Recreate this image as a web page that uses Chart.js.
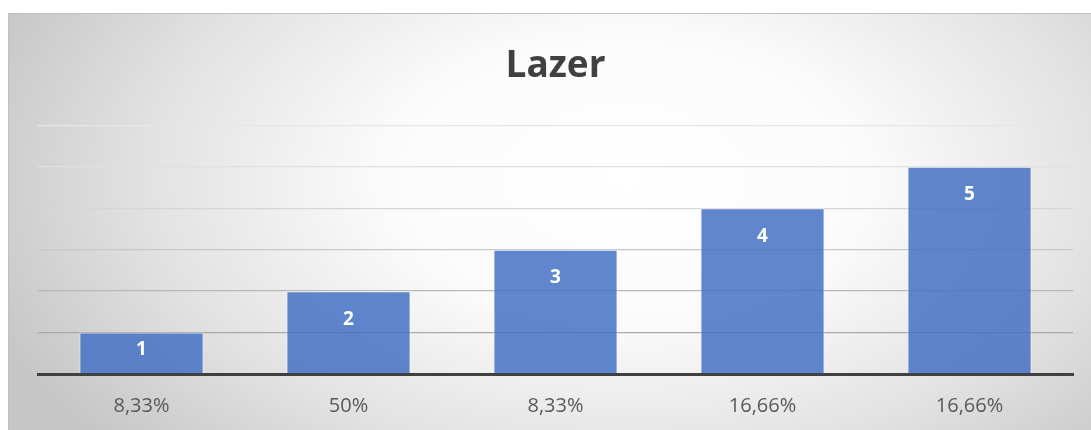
<!DOCTYPE html>
<html>
<head>
<meta charset="utf-8">
<script src="https://cdn.jsdelivr.net/npm/chart.js@4.4.1/dist/chart.umd.min.js"></script>
<style>
  html, body { margin: 0; padding: 0; background: #fff; overflow: hidden; }
  #card {
    position: absolute; left: 8px; top: 13px; width: 1100px; height: 430px;
    border: 1px solid #c0c0c0;
    background: radial-gradient(ellipse 62% 95% at 56% 38%, #ffffff 0%, #fbfbfb 35%, #e2e2e2 70%, #c6c6c6 100%);
  }
  #wrap { position: absolute; left: 0; top: 0; width: 1091px; height: 451px; }
</style>
</head>
<body>
<div id="card"></div>
<div id="wrap"><canvas id="chart" width="1091" height="451"></canvas></div>
<script>
const chartTitle = "Lazer";
const categories = ["8,33%", "50%", "8,33%", "16,66%", "16,66%"];
const values = [1, 2, 3, 4, 5];
const yMax = 6;

// gridline shades, darker toward the baseline
const gridShades = ["#9a9a9a", "#a8a8a8", "#b8b8b8", "#c8c8c8", "#d6d6d6", "#e0e0e0", "#e6e6e6"];

// value labels drawn inside the top of each bar
const barLabels = {
  id: "barLabels",
  afterDatasetsDraw(chart) {
    const c = chart.ctx;
    const meta = chart.getDatasetMeta(0);
    c.save();
    c.fillStyle = "#ffffff";
    c.font = "bold 19px 'Open Sans', sans-serif";
    c.textAlign = "center";
    c.textBaseline = "middle";
    meta.data.forEach((bar, i) => {
      const y = Math.min(bar.y + 28, (bar.y + bar.base) / 2 - 3);
      c.fillText(String(values[i]), bar.x, y);
    });
    c.restore();
  }
};

const ctx = document.getElementById("chart").getContext("2d");
new Chart(ctx, {
  type: "bar",
  data: {
    labels: categories,
    datasets: [{
      data: values,
      backgroundColor: "rgba(68,114,196,0.85)",
      borderColor: "rgba(255,255,255,0.55)",
      borderWidth: 1,
      barPercentage: 0.6,
      categoryPercentage: 1
    }]
  },
  options: {
    responsive: false,
    animation: false,
    layout: { padding: { left: 38, right: 18, top: 0, bottom: 13 } },
    plugins: {
      legend: { display: false },
      tooltip: { enabled: false },
      title: {
        display: true,
        text: chartTitle,
        color: "#404040",
        font: { family: "'Open Sans', sans-serif", size: 37, weight: "bold" },
        padding: { top: 44, bottom: 37 }
      }
    },
    scales: {
      x: {
        grid: { display: false, drawTicks: false },
        border: { color: "#404040", width: 3 },
        ticks: {
          color: "#595959",
          font: { family: "'Open Sans', sans-serif", size: 20 },
          padding: 20
        }
      },
      y: {
        min: 0,
        max: yMax,
        ticks: { display: false, stepSize: 1 },
        border: { display: false },
        grid: {
          drawTicks: false,
          lineWidth: 1.3,
          color: c => gridShades[c.index] || "#d0d0d0"
        }
      }
    }
  },
  plugins: [barLabels]
});
</script>
</body>
</html>
